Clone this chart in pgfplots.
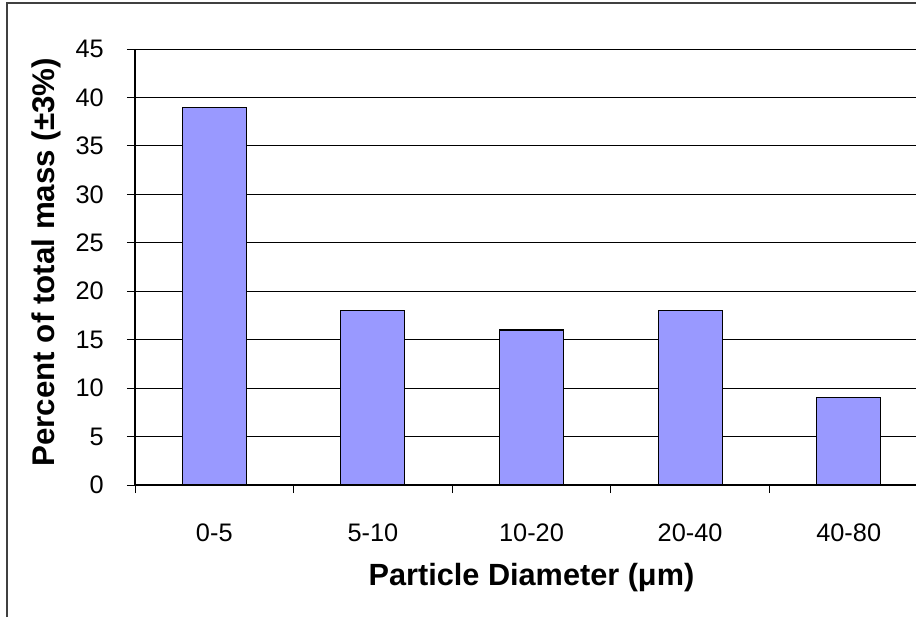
\documentclass[border=0pt]{standalone}
\usepackage{pgfplots}
\pgfplotsset{compat=1.18}
\usepackage{fontspec}
\setmainfont{Liberation Sans}
\definecolor{barblue}{RGB}{153,153,255}
\begin{document}
\begin{tikzpicture}
\useasboundingbox (0,0) rectangle (687pt,462.75pt);
\draw[black!75, line width=0.8pt] (5.25pt,0) -- (5.25pt,460.5pt) -- (690pt,460.5pt);
\begin{axis}[
  at={(101.25pt,99pt)}, anchor=south west,
  scale only axis,
  width=594.75pt, height=327pt,
  xmin=-0.5, xmax=4.5, ymin=0, ymax=45,
  axis lines*=left,
  axis line style={black, line width=0.8pt},
  ytick={0,5,...,45},
  xtick={0,1,2,3,4},
  xticklabels={0-5,5-10,10-20,20-40,40-80},
  minor xtick={-0.5,0.5,1.5,2.5,3.5,4.5},
  major x tick style={draw=none},
  tick align=outside,
  major tick length=6pt, minor tick length=6pt,
  tick style={black, line width=0.6pt},
  ymajorgrids,
  grid style={black, line width=0.6pt},
  /pgf/number format/assume math mode=true,
  ticklabel style={font=\fontsize{19}{22}\selectfont},
  yticklabel style={anchor=east, inner sep=0pt, xshift=-17.25pt},
  xticklabel style={anchor=base, inner sep=0pt, yshift=-36pt},
  xlabel={\textbf{Particle Diameter (μm)}},
  ylabel={\textbf{Percent of total mass (±3\%)}},
  xlabel style={font=\fontsize{23}{26}\selectfont, at={(axis description cs:0.5,-0.2294)}, anchor=base},
  ylabel style={font=\fontsize{23.5}{26}\selectfont, at={(axis description cs:-0.1009,0.511)}, anchor=base, rotate=0},
  clip=false,
]
\addplot[ybar, bar width=48pt, bar shift=0pt, fill=barblue, draw=black, line width=0.8pt]
  coordinates {(0,39) (1,18) (2,16) (3,18) (4,9)};
\end{axis}
\end{tikzpicture}
\end{document}
